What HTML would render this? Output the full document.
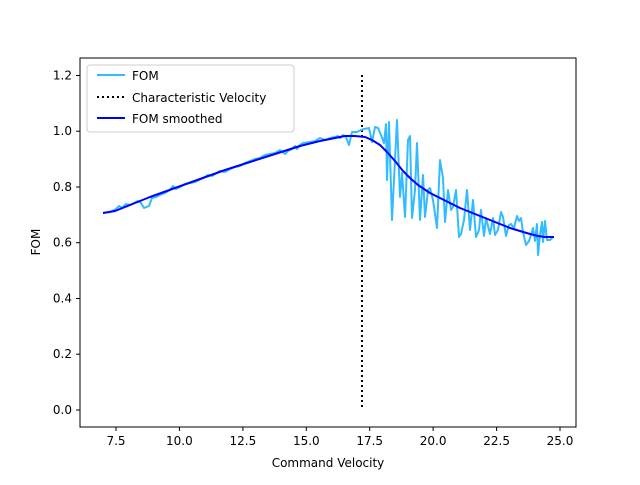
<!DOCTYPE html><html><head><style>body{margin:0;background:#fff}svg text{font-family:"DejaVu Sans","Liberation Sans",sans-serif;font-size:12px}</style></head><body>
<svg width="640" height="480" viewBox="0 0 640 480">
<rect x="80" y="58" width="496" height="369" fill="#fff" stroke="#000" stroke-width="1"/>
<g stroke="#000"><line x1="116" y1="427" x2="116" y2="431"/><line x1="179.4" y1="427" x2="179.4" y2="431"/><line x1="242.9" y1="427" x2="242.9" y2="431"/><line x1="306.3" y1="427" x2="306.3" y2="431"/><line x1="369.7" y1="427" x2="369.7" y2="431"/><line x1="433.1" y1="427" x2="433.1" y2="431"/><line x1="496.6" y1="427" x2="496.6" y2="431"/><line x1="560" y1="427" x2="560" y2="431"/>
<line x1="76" y1="410" x2="80" y2="410"/><line x1="76" y1="354.2" x2="80" y2="354.2"/><line x1="76" y1="298.5" x2="80" y2="298.5"/><line x1="76" y1="242.7" x2="80" y2="242.7"/><line x1="76" y1="187" x2="80" y2="187"/><line x1="76" y1="131.2" x2="80" y2="131.2"/><line x1="76" y1="75.5" x2="80" y2="75.5"/></g>
<g text-anchor="middle"><text x="116" y="445">7.5</text><text x="179.4" y="445">10.0</text><text x="242.9" y="445">12.5</text><text x="306.3" y="445">15.0</text><text x="369.7" y="445">17.5</text><text x="433.1" y="445">20.0</text><text x="496.6" y="445">22.5</text><text x="560" y="445">25.0</text>
<text x="328" y="467">Command Velocity</text></g>
<g text-anchor="end"><text x="72" y="414">0.0</text><text x="72" y="358.2">0.2</text><text x="72" y="302.5">0.4</text><text x="72" y="246.7">0.6</text><text x="72" y="191">0.8</text><text x="72" y="135.2">1.0</text><text x="72" y="79.5">1.2</text></g>
<text transform="translate(40,242) rotate(-90)" text-anchor="middle">FOM</text>
<line x1="362" y1="75" x2="362" y2="410" stroke="#000" stroke-width="2" stroke-dasharray="2,3"/>
<polyline fill="none" stroke="#33bbff" stroke-width="2" stroke-linejoin="round" points="103,213 110,212 116,209 119,206 122,208 126,204 130,205 134,203 138,201 141,203 144,208 149,206 152,198 156,197 160,195 165,193 170,190 173,186 176,189 180,187 185,184 190,183 195,182 205,177 208,175 212,176 220,171 225,172 230,169 235,167 240,166 245,163 250,161 255,159 260,158 265,155 270,154 275,153 280,150 285,154 288,151 292,149 295,146 297,149 300,145 303,143 310,142 315,141 320,138 325,140 330,138 335,137 338,136 340,138 343,135 346,137 349,145 352,132 357,132 361,130 364,129 369,128 372,142 375,127 378,128 381,135 384,143 386,124 387,180 389,122 392,220 397,120 400,197 402,173 405,217 408,140 410,136 412,218 415,190 417,143 420,220 423,175 425,217 428,190 430,188 433,200 437,228 440,160 443,178 445,222 448,190 451,210 453,207 456,190 459,237 461,234 464,220 467,190 470,230 473,200 476,237 479,230 481,210 484,236 486,218 490,234 493,218 495,235 498,230 501,212 503,217 506,236 509,225 511,224 514,228 517,216 519,221 521,218 523,232 526,245 529,241 531,235 533,228 535,241 537,224 538,255 540,235 542,222 543,242 545,221 547,240 550,240 553,237"/>
<polyline fill="none" stroke="#0000ff" stroke-width="2" stroke-linejoin="round" points="103,213 115,211 130,205 150,197 175,188 200,179 225,170 250,162 275,154 300,146 320,141 335,138 345,136 355,136 365,137 372,140 380,145 387,152 395,161 403,171 410,178 418,185 430,193 440,198 450,203 460,208 470,212 480,216 490,220 500,224 510,228 520,231 530,234 538,236 545,237 554,237"/>
<rect x="87" y="65" width="207" height="67" rx="3" fill="#fff" stroke="#ccc"/>
<line x1="97" y1="75" x2="125" y2="75" stroke="#33bbff" stroke-width="2"/><text x="132" y="80">FOM</text>
<line x1="97" y1="97" x2="125" y2="97" stroke="#000" stroke-width="2" stroke-dasharray="2,3"/><text x="132" y="102">Characteristic Velocity</text>
<line x1="97" y1="118" x2="125" y2="118" stroke="#0000ff" stroke-width="2"/><text x="132" y="123">FOM smoothed</text>
</svg></body></html>
